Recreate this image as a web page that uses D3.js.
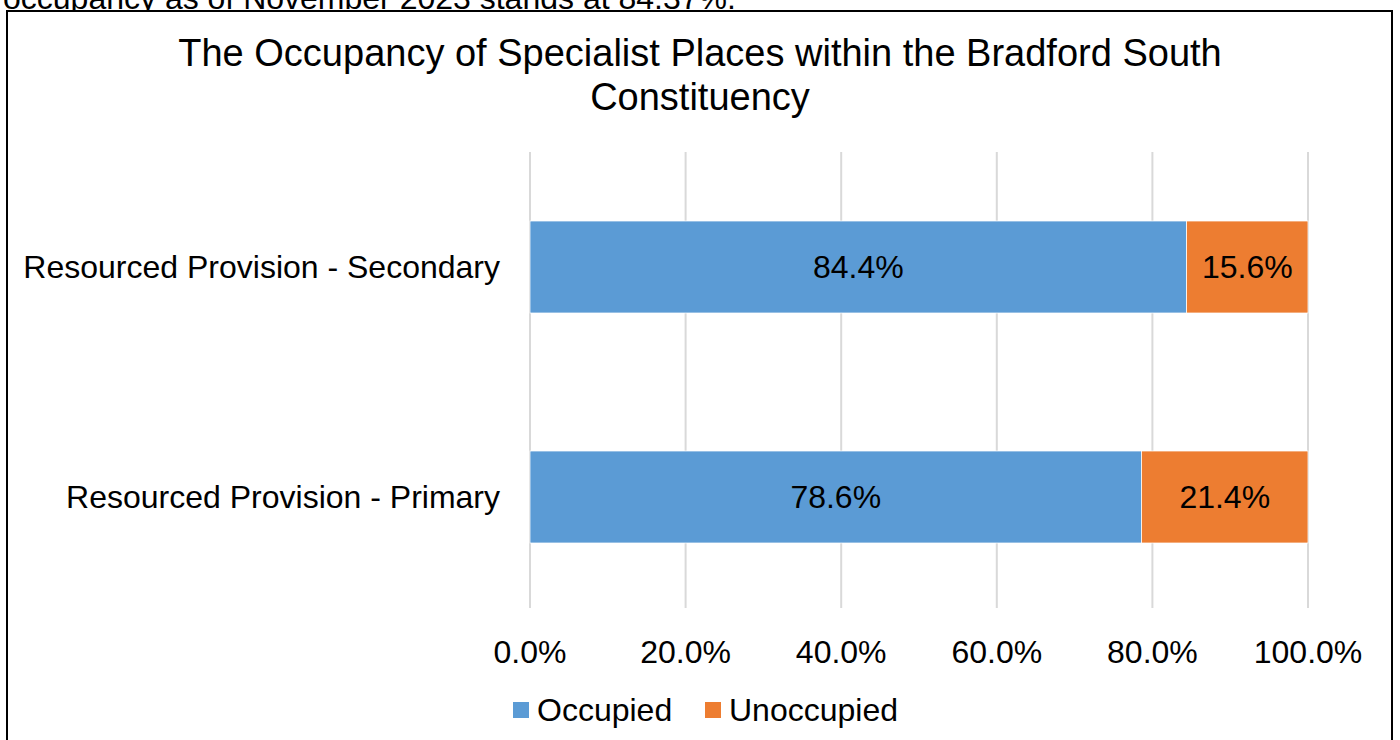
<!DOCTYPE html>
<html>
<head>
<meta charset="utf-8">
<script src="https://cdn.jsdelivr.net/npm/d3@7"></script>
<style>
  body { margin: 0; background: #fff; }
  svg { display: block; font-family: "Liberation Sans", Arial, sans-serif; }
</style>
</head>
<body>
<script>
var categories = ["Resourced Provision - Secondary", "Resourced Provision - Primary"];
var occupied = [84.4, 78.6];
var unoccupied = [15.6, 21.4];
var seriesNames = ["Occupied", "Unoccupied"];
var seriesColors = ["#5B9BD5", "#ED7D31"];
var tickValues = [0, 20, 40, 60, 80, 100];
var titleLines = ["The Occupancy of Specialist Places within the Bradford South", "Constituency"];
var topText = "occupancy as of November 2023 stands at 84.37%.";

var width = 1400, height = 740;
var svg = d3.select("body").append("svg").attr("width", width).attr("height", height);

// text above the chart, cut by the top of the page like in the source
svg.append("text")
  .attr("x", 3).attr("y", 9)
  .attr("font-size", 32)
  .attr("fill", "#000")
  .text(topText);

// chart frame
svg.append("rect")
  .attr("x", 7).attr("y", 11)
  .attr("width", 1385).attr("height", 760)
  .attr("fill", "#fff")
  .attr("stroke", "#000")
  .attr("stroke-width", 2);

svg.append("text")
  .attr("text-anchor", "middle")
  .attr("font-size", 38)
  .selectAll("tspan")
  .data(titleLines)
  .enter().append("tspan")
    .attr("x", 700)
    .attr("y", function(d, i) { return 66 + i * 44; })
    .text(function(d) { return d; });

var x = d3.scaleLinear().domain([0, 100]).range([530, 1308]);
var y = d3.scaleBand().domain(categories).range([152, 612]).paddingInner(0.6).paddingOuter(0.3);

// gridlines
svg.selectAll("line.grid")
  .data(tickValues)
  .enter().append("line")
    .attr("class", "grid")
    .attr("x1", function(d) { return x(d); })
    .attr("x2", function(d) { return x(d); })
    .attr("y1", 152).attr("y2", 608)
    .attr("stroke", "#d9d9d9")
    .attr("stroke-width", 2);

var rows = categories.map(function(c, i) {
  return { cat: c, vals: [occupied[i], unoccupied[i]] };
});

var stacked = [];
rows.forEach(function(r) {
  var acc = 0;
  r.vals.forEach(function(v, j) {
    stacked.push({ cat: r.cat, s: j, x0: acc, x1: acc + v, v: v });
    acc += v;
  });
});

svg.selectAll("rect.bar")
  .data(stacked)
  .enter().append("rect")
    .attr("class", "bar")
    .attr("x", function(d) { return x(d.x0); })
    .attr("width", function(d) { return x(d.x1) - x(d.x0); })
    .attr("y", function(d) { return y(d.cat); })
    .attr("height", y.bandwidth())
    .attr("fill", function(d) { return seriesColors[d.s]; })
    .attr("stroke", "#fff")
    .attr("stroke-width", 0.75);

svg.selectAll("text.val")
  .data(stacked)
  .enter().append("text")
    .attr("class", "val")
    .attr("x", function(d) { return (x(d.x0) + x(d.x1)) / 2; })
    .attr("y", function(d) { return y(d.cat) + y.bandwidth() / 2 + 11; })
    .attr("text-anchor", "middle")
    .attr("font-size", 32)
    .text(function(d) { return d.v.toFixed(1) + "%"; });

// category labels
svg.selectAll("text.cat")
  .data(categories)
  .enter().append("text")
    .attr("class", "cat")
    .attr("x", 500)
    .attr("y", function(d) { return y(d) + y.bandwidth() / 2 + 11; })
    .attr("text-anchor", "end")
    .attr("font-size", 32)
    .text(function(d) { return d; });

// x tick labels
svg.selectAll("text.tick")
  .data(tickValues)
  .enter().append("text")
    .attr("class", "tick")
    .attr("x", function(d) { return x(d); })
    .attr("y", 663)
    .attr("text-anchor", "middle")
    .attr("font-size", 32)
    .text(function(d) { return d.toFixed(1) + "%"; });

// legend
var legendX = [513, 705];
var leg = svg.selectAll("g.leg")
  .data(seriesNames)
  .enter().append("g")
    .attr("class", "leg")
    .attr("transform", function(d, i) { return "translate(" + legendX[i] + ",702)"; });
leg.append("rect")
  .attr("width", 16).attr("height", 16)
  .attr("fill", function(d, i) { return seriesColors[i]; });
leg.append("text")
  .attr("x", 24).attr("y", 19)
  .attr("font-size", 32)
  .text(function(d) { return d; });
</script>
</body>
</html>
